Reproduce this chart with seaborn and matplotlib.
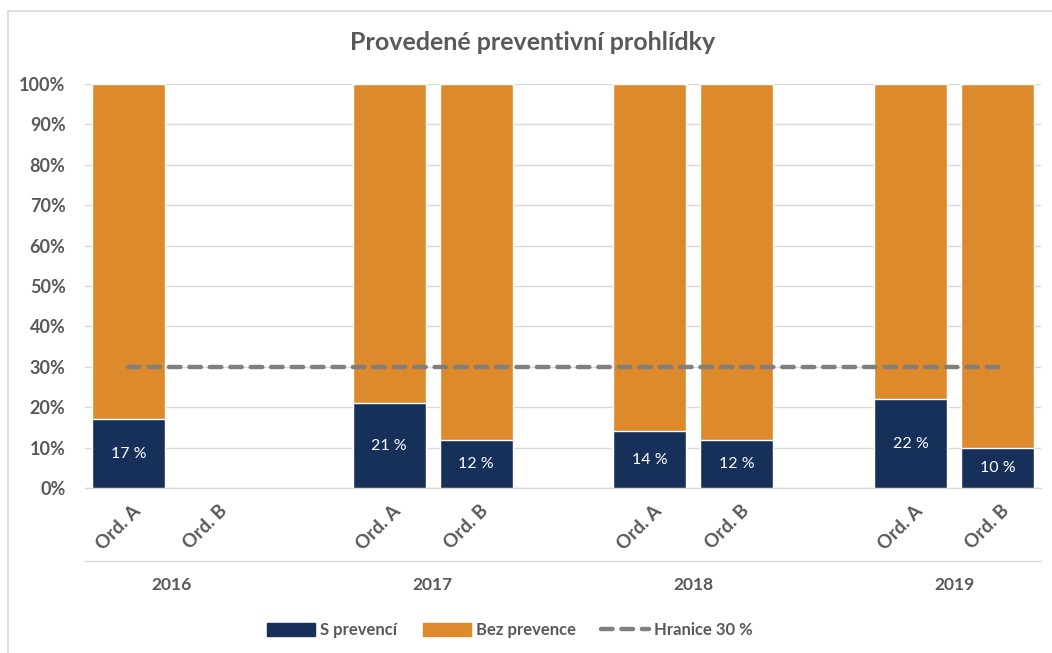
import matplotlib
matplotlib.use("Agg")
import matplotlib.pyplot as plt
import matplotlib.transforms as mtransforms
from matplotlib.patches import Patch, Rectangle
from matplotlib.lines import Line2D
import numpy as np
import pandas as pd
import seaborn as sns

# --- data -------------------------------------------------------------
years = ["2016", "2017", "2018", "2019"]
units = ["Ord. A", "Ord. B"]
# share of examinations with prevention (%) per year / unit; None = no data
s_prevenci = [17, None, 21, 12, 14, 12, 22, 10]
threshold = 30
total = 100

title = "Provedené preventivní prohlídky"
legend_labels = ["S prevencí", "Bez prevence", "Hranice 30 %"]

# --- styling ------------------------------------------------------------
sns.set_theme(style="white")
plt.rcParams["font.family"] = ["Lato", "DejaVu Sans"]

NAVY = "#17305A"
ORANGE = "#DD8A2C"
GREY_LINE = "#7F7F7F"
TEXT = "#595959"
GRID = "#D9D9D9"

# slots: two units per year, one empty slot between year groups
slots, slot_year, slot_unit = [], [], []
for i, y in enumerate(years):
    for u in units:
        slots.append(f"{y} {u}")
        slot_year.append(y)
        slot_unit.append(u)
    if i < len(years) - 1:
        slots.append(f"gap{i}")
        slot_year.append(None)
        slot_unit.append("")

keys = [f"{y} {u}" for y in years for u in units]
df = pd.DataFrame({"slot": keys, "s": s_prevenci})
df = df.dropna().reset_index(drop=True)
df["total"] = total

W, H = 1052, 653
fig = plt.figure(figsize=(W / 100, H / 100), dpi=100)
ax = fig.add_axes([85 / W, (H - 488) / H, (1041 - 85) / W, (488 - 84) / H])

bw = 0.84
sns.barplot(data=df, x="slot", y="total", order=slots, color=ORANGE,
            width=bw, ax=ax, saturation=1, zorder=2)
sns.barplot(data=df, x="slot", y="s", order=slots, color=NAVY,
            width=bw, ax=ax, saturation=1, zorder=3)

# threshold line across all slots
line_df = pd.DataFrame({"x": np.arange(len(slots)), "y": [threshold] * len(slots)})
sns.lineplot(data=line_df, x="x", y="y", ax=ax, color=GREY_LINE, lw=3.2,
             dashes=False, zorder=4)
ln = ax.lines[-1]
ln.set_linestyle((0, (2.6, 2.0)))
ln.set_dash_capstyle("round")

# value labels inside the navy segments
for _, r in df.iterrows():
    xi = slots.index(r["slot"])
    ax.text(xi, r["s"] / 2, f"{int(r['s'])} %", ha="center", va="center",
            color="white", fontsize=11.5, zorder=5)

ax.set_xlim(-0.5, len(slots) - 0.5)
ax.set_ylim(0, 100)
ax.set_yticks(np.arange(0, 101, 10))
ax.set_yticklabels([f"{v}%" for v in range(0, 101, 10)], fontsize=13,
                   fontweight="bold", color=TEXT)
ax.yaxis.grid(True, color=GRID, lw=1)
ax.set_axisbelow(True)
ax.tick_params(axis="y", length=0, pad=14)
ax.tick_params(axis="x", length=0, pad=10)
for s in ["top", "right", "left"]:
    ax.spines[s].set_visible(False)
ax.spines["bottom"].set_color(GRID)
ax.spines["bottom"].set_linewidth(1)
ax.set_xlabel("")
ax.set_ylabel("")

# unit tick labels, rotated
ax.set_xticks(range(len(slots)))
ax.set_xticklabels(slot_unit, rotation=45, ha="right", va="top",
                   rotation_mode="anchor", fontsize=13.5, fontweight="bold",
                   color=TEXT)
offset = mtransforms.ScaledTranslation(3 / 100, 0, fig.dpi_scale_trans)
for lab in ax.get_xticklabels():
    lab.set_transform(lab.get_transform() + offset)

# separator line and year labels below the unit labels
sep_y = 1 - (561 - 84) / (488 - 84)
ax.plot([0, 1], [sep_y, sep_y], transform=ax.transAxes, color=GRID, lw=1,
        clip_on=False)
year_y = 1 - (585 - 84) / (488 - 84)
trans = mtransforms.blended_transform_factory(ax.transData, ax.transAxes)
for y in years:
    idx = [i for i, yy in enumerate(slot_year) if yy == y]
    ax.text(np.mean(idx), year_y, y, transform=trans, ha="center", va="center",
            fontsize=12.5, fontweight="bold", color=TEXT)

# title
fig.text(533 / W, 1 - 43 / H, title, ha="center", va="center", fontsize=18,
         fontweight="bold", color=TEXT)

# legend
handles = [
    Patch(facecolor=NAVY, edgecolor=NAVY),
    Patch(facecolor=ORANGE, edgecolor=ORANGE),
    Line2D([0], [0], color=GREY_LINE, lw=3.2, linestyle=(0, (2.6, 2.0)),
           dash_capstyle="round"),
]
leg = fig.legend(handles, legend_labels, loc="center", bbox_to_anchor=(510 / W, 1 - 630 / H),
                 ncol=3, frameon=False, handlelength=2.9, handleheight=0.8,
                 handletextpad=0.3, columnspacing=1.5,
                 prop={"size": 12, "weight": "bold"})
for t in leg.get_texts():
    t.set_color(TEXT)

# chart frame
fig.patches.append(Rectangle((8 / W, -0.1), 1.2, 1 - 11 / H + 0.1,
                             transform=fig.transFigure, fill=False,
                             edgecolor=GRID, lw=1.2))

fig.savefig("out.png", dpi=100)
